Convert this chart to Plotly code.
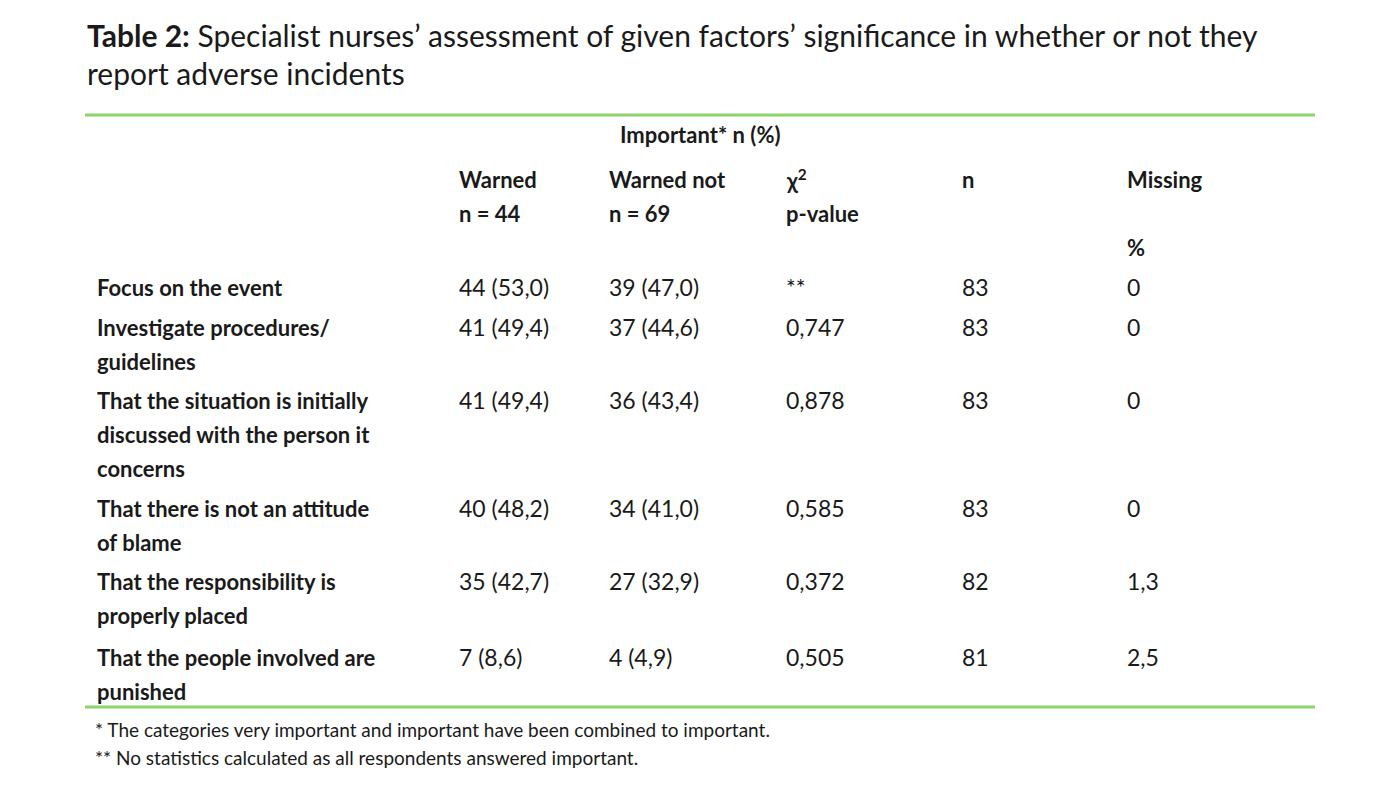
import plotly.graph_objects as go

title_bold = "Table 2:"
title_lines = [" Specialist nurses’ assessment of given factors’ significance in whether or not they",
               "report adverse incidents"]
factors = [["Focus on the event"], ["Investigate procedures/", "guidelines"],
           ["That the situation is initially", "discussed with the person it", "concerns"],
           ["That there is not an attitude", "of blame"], ["That the responsibility is", "properly placed"],
           ["That the people involved are", "punished"]]
warned = ["44 (53,0)", "41 (49,4)", "41 (49,4)", "40 (48,2)", "35 (42,7)", "7 (8,6)"]
warned_not = ["39 (47,0)", "37 (44,6)", "36 (43,4)", "34 (41,0)", "27 (32,9)", "4 (4,9)"]
pvals = ["**", "0,747", "0,878", "0,585", "0,372", "0,505"]
n_vals = ["83", "83", "83", "83", "82", "81"]
missing = ["0", "0", "0", "0", "1,3", "2,5"]
footnotes = ["* The categories very important and important have been combined to important.",
             "** No statistics calculated as all respondents answered important."]

FONT = "Lato"
OFF = 8  # page body margin
fig = go.Figure()
ann = []
def t(x, y, s, size=23, bold=False, anchor="left"):
    ann.append(dict(x=x - OFF, y=y - OFF, text=(f"<b>{s}</b>" if bold else s), showarrow=False,
                    xanchor=anchor, yanchor="middle", align="left",
                    font=dict(family=FONT, size=size, color="#1a1a1a")))

t(85, 35, f"<b>{title_bold}</b>{title_lines[0]}", size=30)
t(85, 73, title_lines[1], size=30)
t(700, 134, "Important* n (%)", bold=True, size=22, anchor="center")
t(457, 179, "Warned", bold=True, size=22); t(457, 213, "n = 44", bold=True, size=22)
t(607, 179, "Warned not", bold=True, size=22); t(607, 213, "n = 69", bold=True, size=22)
t(784, 179, "χ<sup>2</sup>", bold=True, size=22); t(784, 213, "p-value", bold=True, size=22)
t(960, 179, "n", bold=True, size=22)
t(1125, 179, "Missing", bold=True, size=22)
t(1125, 247, "%", bold=True, size=22)
row_y = [287, 327, 400, 508, 581, 657]
for i, y in enumerate(row_y):
    for j, line in enumerate(factors[i]):
        t(95, y + 34 * j, line, bold=True, size=22)
    t(457, y, warned[i]); t(607, y, warned_not[i]); t(784, y, pvals[i])
    t(960, y, n_vals[i]); t(1125, y, missing[i])
t(93, 729, footnotes[0], size=19)
t(93, 757, footnotes[1], size=19)

shapes = [dict(type="line", x0=85 - OFF, x1=1315 - OFF, y0=y - OFF, y1=y - OFF, xref="x", yref="y",
               line=dict(color="#8fd16a", width=3)) for y in (115, 707)]
fig.update_layout(width=1400, height=786, margin=dict(l=0, r=0, t=0, b=0),
                  paper_bgcolor="white", plot_bgcolor="white",
                  xaxis=dict(range=[0, 1400], visible=False, fixedrange=True),
                  yaxis=dict(range=[786, 0], visible=False, fixedrange=True),
                  annotations=ann, shapes=shapes, showlegend=False)
fig.write_html("out.html")
